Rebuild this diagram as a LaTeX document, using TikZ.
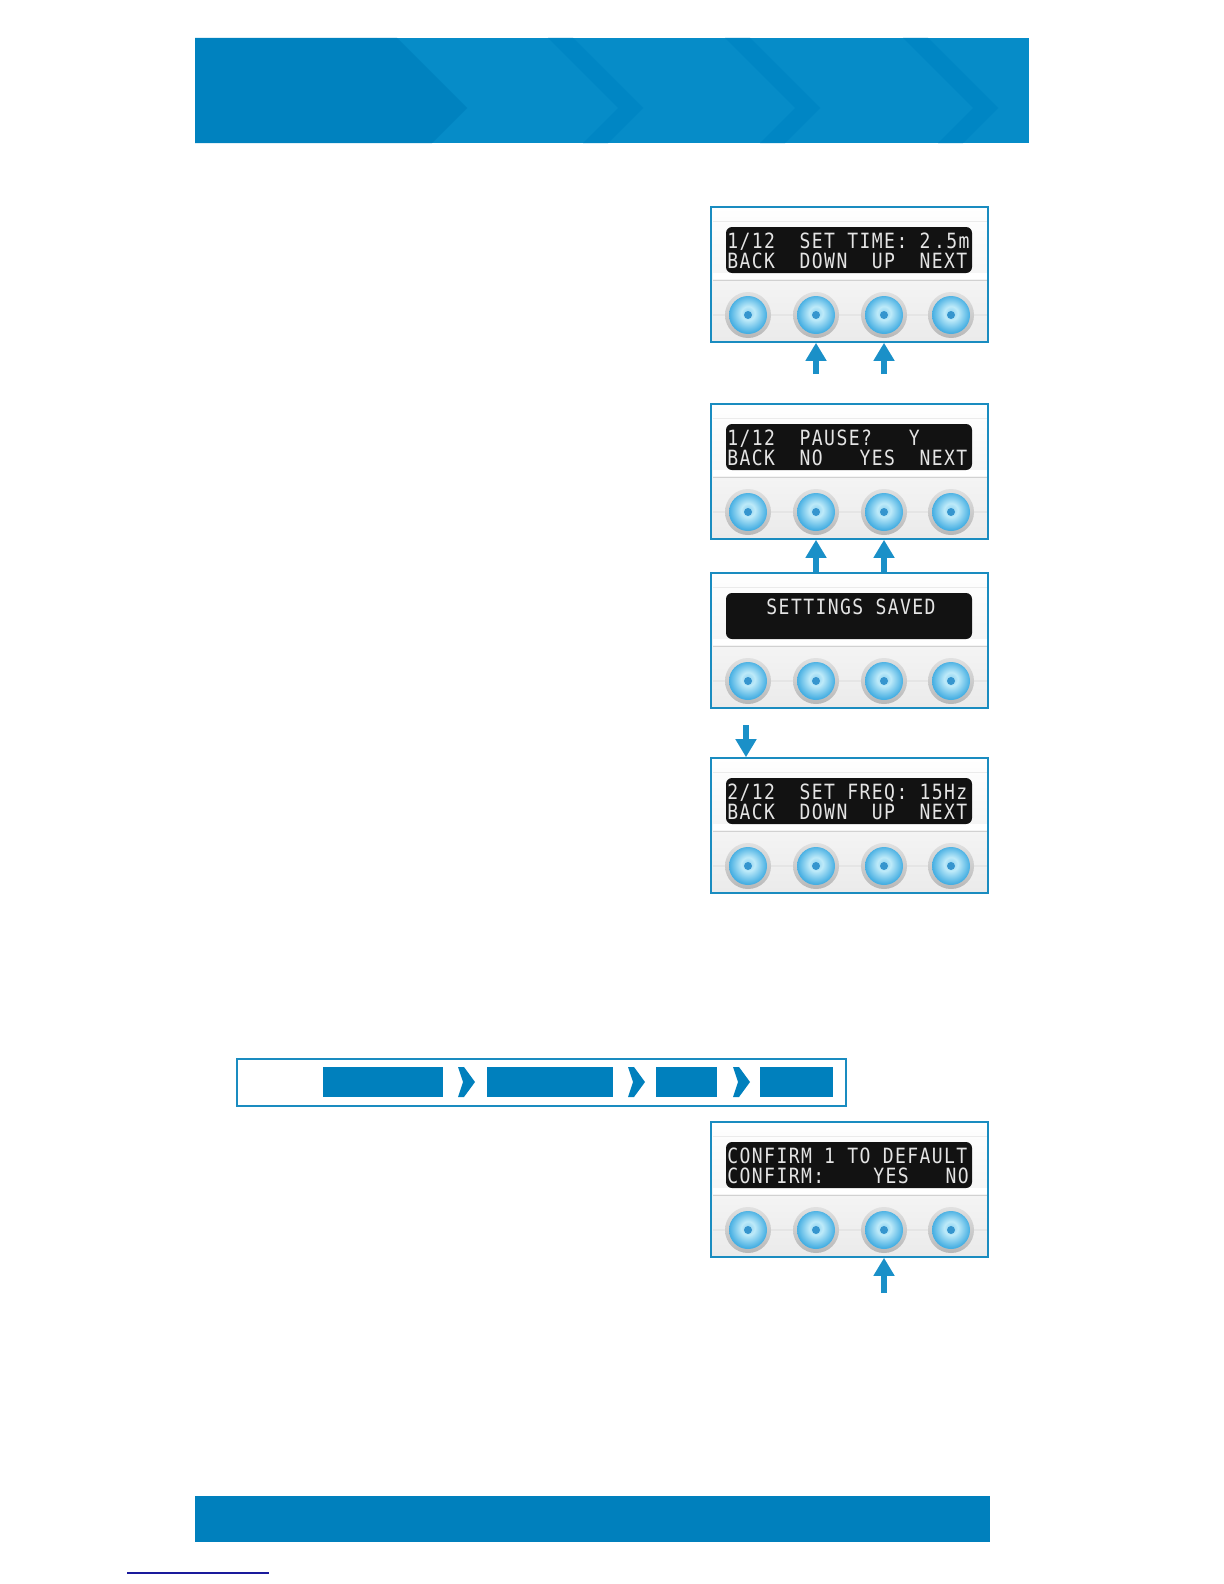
\documentclass[tikz,border=0pt]{standalone}
\usepackage{fontspec}
\usetikzlibrary{arrows.meta}
\newfontfamily\lcdfont{DejaVu Sans Mono}[FakeStretch=0.86, LetterSpace=6.7]

\definecolor{headblue}{HTML}{068CC8}
\definecolor{headdark}{HTML}{0082BF}
\definecolor{headstripe}{HTML}{0086C4}
\definecolor{frameblue}{HTML}{1A8CC0}
\definecolor{crumbblue}{HTML}{0080BD}
\definecolor{arrowblue}{HTML}{1A90C8}
\definecolor{lcdgray}{HTML}{E4E4E4}
\definecolor{btnedge}{HTML}{45AEE2}
\definecolor{btnlight}{HTML}{BDEAF9}
\definecolor{btnmid}{HTML}{8ED2F0}
\definecolor{dotblue}{HTML}{3595CE}
\definecolor{linkblue}{HTML}{1A1A9C}

\pgfdeclareradialshading{btnshade}{\pgfpoint{0bp}{3bp}}{color(0bp)=(btnmid); color(9bp)=(btnlight); color(25bp)=(btnedge); color(50bp)=(btnedge)}

\tikzset{
  panel/.style={draw=frameblue, line width=0.8pt, top color=white, bottom color=black!8, minimum width=138.5pt, minimum height=67.5pt, inner sep=0pt},
  screen/.style={fill=black!93, rounded corners=3pt, minimum width=123pt, minimum height=23pt, inner sep=0pt},
  lcdtext/.style={text=lcdgray, font=\lcdfont\fontsize{10.5}{12}\selectfont, inner sep=0pt, anchor=base west},
  ring/.style={circle, top color=black!12, bottom color=black!28, minimum size=23pt, inner sep=0pt},
  btn/.style={circle, shading=btnshade, minimum size=19pt, inner sep=0pt},
  crumb/.style={fill=crumbblue, minimum height=15pt, inner sep=0pt},
  pointer/.style={draw=arrowblue, line width=2.8pt, -{Triangle[length=9pt, width=10pt]}}
}

\begin{document}
\begin{tikzpicture}[x=0.5pt, y=-0.5pt]
    \useasboundingbox (0,0) rectangle (1224,1584);

    % header band
    \fill[headblue] (195,38) rectangle (1029,143);
    \fill[headdark] (195,38) -- (397,38) -- (467,108) -- (432,143) -- (195,143) -- cycle;
    \foreach \tx in {643,820,998}
        \fill[headstripe] (\tx-95,38) -- (\tx-70,38) -- (\tx,108) -- (\tx-35,143) -- (\tx-60,143) -- (\tx-25,108) -- cycle;

    % control panels
    \foreach \p/\t in {1/207, 2/404, 3/573, 4/758, 5/1122} {
        \node[panel] (p\p) at (849.5,\t+67.5) {};
        \draw[black!8] (713,\t+14) -- (987,\t+14);
        \fill[white] (713,\t+66) rectangle (987,\t+72);
        \draw[black!18] (713,\t+73) -- (987,\t+73);
        \draw[black!10, line width=1pt] (713,\t+108) -- (987,\t+108);
        \node[screen] (p\p-s) at (849,\t+43) {};
        \foreach \i/\x in {1/748, 2/816, 3/884, 4/951} {
            \node[ring] (p\p-r\i) at (\x,\t+108) {};
            \node[btn] (p\p-b\i) at (\x,\t+108) {};
            \fill[dotblue] (p\p-b\i) circle (4);
        }
    }

    % screen texts
    \node[lcdtext] (p1-l1) at (727,248) {1/12~~SET~TIME:~2\,.5m};
    \node[lcdtext] (p1-l2) at (727,268) {BACK~~DOWN~~UP~~NEXT};
    \node[lcdtext] (p2-l1) at (727,445) {1/12~~PAUSE?~~~Y};
    \node[lcdtext] (p2-l2) at (727,465) {BACK~~NO~~~YES~~NEXT};
    \node[lcdtext, anchor=base] (p3-l1) at (851,614) {SETTINGS~SAVED};
    \node[lcdtext] (p4-l1) at (727,799) {2/12~~SET~FREQ:~15Hz};
    \node[lcdtext] (p4-l2) at (727,819) {BACK~~DOWN~~UP~~NEXT};
    \node[lcdtext] (p5-l1) at (727,1163) {CONFIRM~1~TO~DEFAULT};
    \node[lcdtext] (p5-l2) at (727,1183) {CONFIRM:~~~~YES~~~NO};

    % button arrows
    \coordinate (u1) at (0,374);
    \coordinate (d1) at (746,725);
    \coordinate (c1) at (0,1293);
    \draw[pointer] (p1-b2 |- u1) -- (p1-b2 |- p1.south);
    \draw[pointer] (p1-b3 |- u1) -- (p1-b3 |- p1.south);
    \draw[pointer] (p2-b2 |- p3.north) -- (p2-b2 |- p2.south);
    \draw[pointer] (p2-b3 |- p3.north) -- (p2-b3 |- p2.south);
    \draw[pointer] (d1) -- (d1 |- p4.north);
    \draw[pointer] (p5-b3 |- c1) -- (p5-b3 |- p5.south);

    % breadcrumb bar
    \node[draw=frameblue, line width=1pt, minimum width=304.5pt, minimum height=23.5pt, inner sep=0pt] (bc) at (541.5,1082.5) {};
    \node[crumb, minimum width=60pt] (bc1) at (383,1082) {};
    \node[crumb, minimum width=63pt] (bc2) at (550,1082) {};
    \node[crumb, minimum width=30.5pt] (bc3) at (686.5,1082) {};
    \node[crumb, minimum width=36.5pt] (bc4) at (796.5,1082) {};
    \foreach \x in {458,628,733}
        \fill[crumbblue] (\x,1067) -- (\x+6,1067) -- (\x+17,1082) -- (\x+6,1097) -- (\x,1097) -- (\x+5,1082) -- cycle;

    % footer band and link
    \fill[crumbblue] (195,1496) rectangle (990,1542);
    \draw[linkblue, line width=1pt] (127,1573) -- (269,1573);
\end{tikzpicture}
\end{document}
